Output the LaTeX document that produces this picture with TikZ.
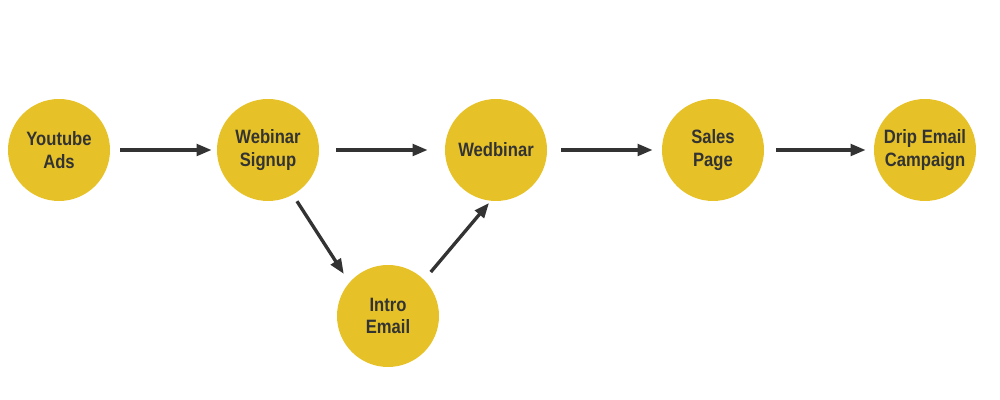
\documentclass[tikz,border=0pt]{standalone}
\usepackage{fontspec}
\setmainfont{Liberation Sans}[FakeStretch=0.86]
\usetikzlibrary{arrows.meta}
\definecolor{stagegold}{RGB}{230,194,40}
\definecolor{inkgray}{RGB}{51,51,51}

\begin{document}
\begin{tikzpicture}[
    stage/.style={circle, fill=stagegold, minimum size=2.04cm, inner sep=0pt,
      align=center, font=\bfseries\fontsize{11}{13}\selectfont, text=inkgray},
    flow/.style={-{Triangle[length=0.3cm, width=0.23cm]}, line width=1.9pt,
      draw=inkgray}
  ]
  \useasboundingbox (0,0) rectangle (20,8);
  % Stages
  \node[stage] (ads)     at (1.18,5.0)  {Youtube\\Ads};
  \node[stage] (signup)  at (5.36,5.0)  {Webinar\\Signup};
  \node[stage] (webinar) at (9.92,5.0)  {Wedbinar};
  \node[stage] (sales)   at (14.26,5.0) {Sales\\Page};
  \node[stage] (drip)    at (18.5,5.0)  {Drip Email\\Campaign};
  \node[stage] (intro)   at (7.76,1.68) {Intro\\Email};
  % Main flow
  \draw[flow, shorten <=0.2cm, shorten >=0.1cm] (ads) -- (signup);
  \draw[flow, shorten <=0.34cm, shorten >=0.34cm] (signup) -- (webinar);
  \draw[flow, shorten <=0.28cm, shorten >=0.18cm] (webinar) -- (sales);
  \draw[flow, shorten <=0.24cm, shorten >=0.16cm] (sales) -- (drip);
  % Side branch via intro email
  \draw[flow, shorten <=0.15cm, shorten >=0.2cm] (signup.-61) -- (intro.139);
  \draw[flow, shorten <=0.2cm, shorten >=0.05cm] (intro.45) -- (webinar.-96);
\end{tikzpicture}
\end{document}
